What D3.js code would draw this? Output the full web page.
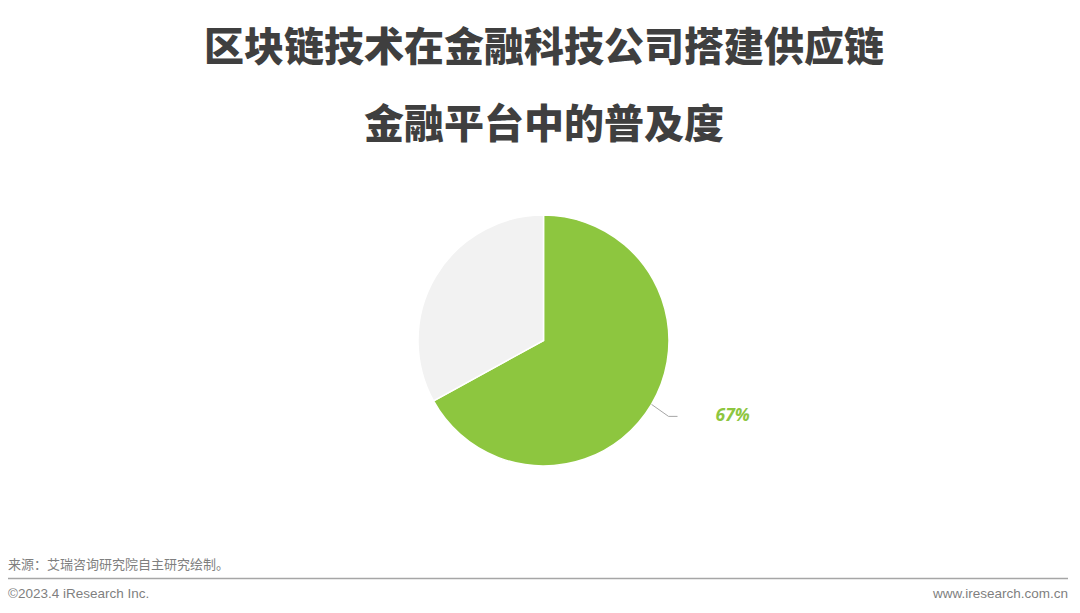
<!DOCTYPE html>
<html><head><meta charset="utf-8">
<script src="https://cdn.jsdelivr.net/npm/d3@7"></script>
<style>
html,body{margin:0;padding:0;background:#fff;}
svg{display:block;}
</style></head>
<body>
<svg id="chart" width="1080" height="613"></svg>
<script>
const titleLines = ["区块链技术在金融科技公司搭建供应链", "金融平台中的普及度"];
const categories = ["是", "否"];
const values = [67, 33];
const labels = ["67%", ""];
const colors = ["#8dc63f", "#f2f2f2"];
const sourceText = "来源：艾瑞咨询研究院自主研究绘制。";
const copyText = "©2023.4 iResearch Inc.";
const siteText = "www.iresearch.com.cn";

const svg = d3.select("#chart");
const W = 1080;
const cjk = "'Noto Sans CJK SC','Noto Sans',sans-serif";

svg.selectAll("text.title").data(titleLines).join("text")
  .attr("class","title")
  .attr("x", W/2 + 4)
  .attr("y", (d,i) => 61 + i*77)
  .attr("text-anchor","middle")
  .attr("font-family", cjk)
  .attr("font-weight", 900)
  .attr("font-size", 40)
  .attr("fill", "#3f3f3f")
  .text(d => d);

const cx = 543.5, cy = 340.5, r = 125.5;
const pie = d3.pie().sort(null).value(d => d)(values);
const arc = d3.arc().innerRadius(0).outerRadius(r);
const g = svg.append("g").attr("transform", `translate(${cx},${cy})`);
g.selectAll("path").data(pie).join("path")
  .attr("d", arc)
  .attr("fill", (d,i) => colors[i])
  .attr("stroke", "#fff")
  .attr("stroke-width", 1.5);

// label for first slice
const p = pie[0];
const mid = (p.startAngle + p.endAngle)/2;
const sx = Math.sin(mid)*r, sy = -Math.cos(mid)*r;
const ex = sx + 17, ey = sy + 12;
g.append("polyline")
  .attr("points", `${sx},${sy} ${ex},${ey} ${ex+9},${ey}`)
  .attr("fill","none")
  .attr("stroke","#a6a6a6")
  .attr("stroke-width",1);
g.append("text")
  .attr("x", ex + 47)
  .attr("y", ey - 2)
  .attr("dy","0.35em")
  .attr("font-family","'Open Sans','Noto Sans',sans-serif")
  .attr("font-weight",700)
  .attr("font-style","italic")
  .attr("font-size",17.5)
  .attr("fill",colors[0])
  .text(labels[0]);

// footer
svg.append("text").attr("x",8).attr("y",569)
  .attr("font-family",cjk).attr("font-size",13).attr("fill","#7f7f7f").text(sourceText);
svg.append("line").attr("x1",8).attr("x2",1068).attr("y1",578.5).attr("y2",578.5)
  .attr("stroke","#a6a6a6").attr("stroke-width",1.5);
svg.append("text").attr("x",8).attr("y",598)
  .attr("font-family","'Liberation Sans',Arial,sans-serif").attr("font-size",13.5).attr("fill","#7f7f7f").text(copyText);
svg.append("text").attr("x",1068).attr("y",598).attr("text-anchor","end")
  .attr("font-family","'Liberation Sans',Arial,sans-serif").attr("font-size",13.5).attr("fill","#7f7f7f").text(siteText);
</script>
</body></html>
